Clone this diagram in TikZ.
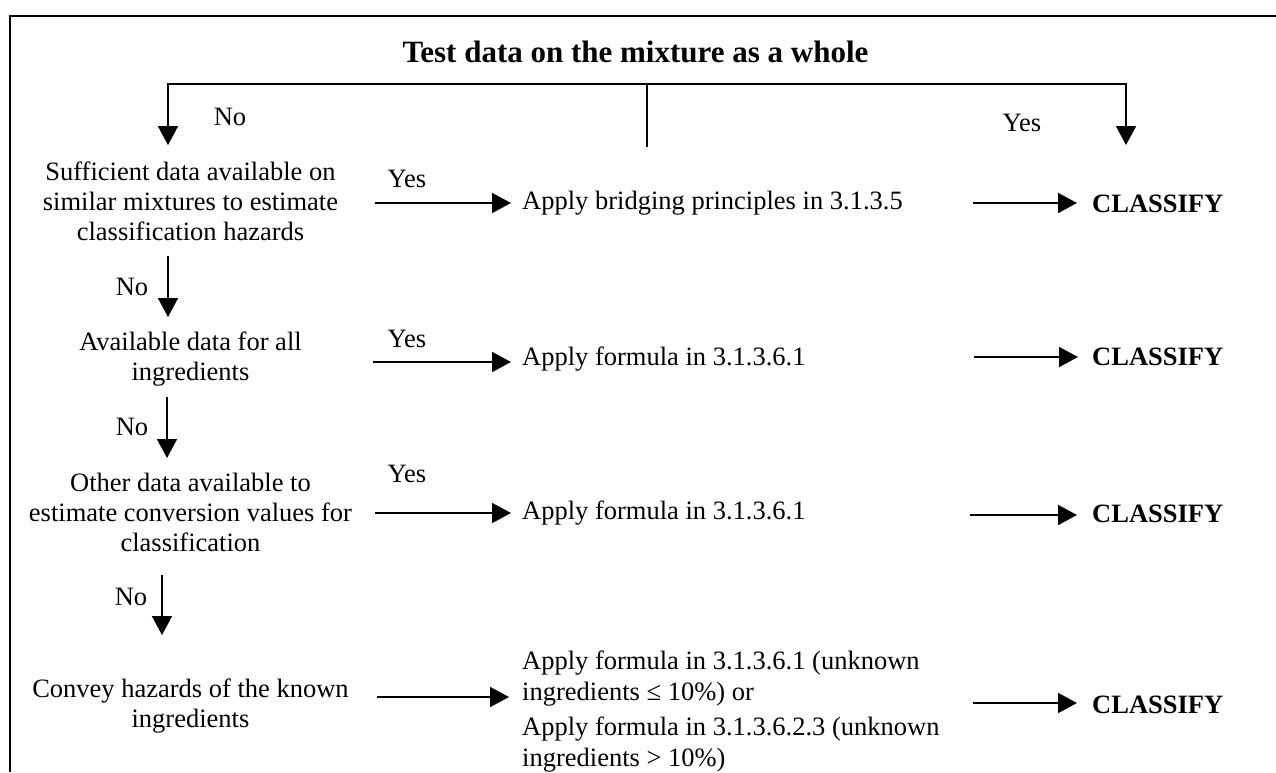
\documentclass[tikz,border=0pt]{standalone}
\usepackage{fontspec}
\setmainfont{Liberation Serif}
\usetikzlibrary{arrows.meta}
\begin{document}
\begin{tikzpicture}[x=1pt,y=-1pt,
  txt/.style={inner sep=0pt, font=\fontsize{26.5}{30}\selectfont},
  ask/.style={txt, align=center, anchor=north},
  act/.style={txt, anchor=base west},
  actblock/.style={inner sep=0pt, align=left, anchor=north west, font=\fontsize{26.5}{31}\selectfont},
  res/.style={inner sep=0pt, anchor=base west, font=\fontsize{26.5}{30}\selectfont\bfseries},
  lbl/.style={txt, anchor=base},
  link/.style={line width=1.7pt},
  flow/.style={link, -{Triangle[length=19pt,width=20pt]}},
  frame/.style={line width=2.2pt},
]
\useasboundingbox (0,0) rectangle (1276,772);

% table border (top and left edges)
\coordinate (fBL) at (10,772);
\coordinate (fTL) at (10,16);
\coordinate (fTR) at (1276,16);
\draw[frame] (fBL) -- (fTL) -- (fTR);

% heading and the first split
\node[inner sep=0pt, anchor=base, font=\fontsize{31}{36}\selectfont\bfseries] (title) at (635.5,62) {Test data on the mixture as a whole};
\coordinate (split) at (646.7,84);
\coordinate (stub) at (646.7,147);
\coordinate (noIn) at (168,145);
\coordinate (yesIn) at (1126,145);
\draw[link] (split) -- (stub);
\draw[flow] (split) -| (noIn);
\draw[flow] (split) -| (yesIn);
\node[lbl] (no0) at (230,125) {No};
\node[lbl] (yes0) at (1022,131) {Yes};

% decision column
\node[ask] (q1) at (190.5,162) {Sufficient data available on\\similar mixtures to estimate\\classification hazards};
\node[ask] (q2) at (190.5,332) {Available data for all\\ingredients};
\node[ask] (q3) at (190.5,473) {Other data available to\\estimate conversion values for\\classification};
\node[ask] (q4) at (190.5,679) {Convey hazards of the known\\ingredients};

% actions
\node[act] (a1) at (522,209.5) {Apply bridging principles in 3.1.3.5};
\node[act] (a2) at (522,365) {Apply formula in 3.1.3.6.1};
\node[act] (a3) at (522,519.5) {Apply formula in 3.1.3.6.1};
\node[actblock] (a4) at (522,651) {Apply formula in 3.1.3.6.1 (unknown\\ingredients ≤ 10\%) or\\[4pt]Apply formula in 3.1.3.6.2.3 (unknown\\ingredients > 10\%)};

% results
\node[res] (c1) at (1092,212) {CLASSIFY};
\node[res] (c2) at (1092,365) {CLASSIFY};
\node[res] (c3) at (1092,522) {CLASSIFY};
\node[res] (c4) at (1092,713) {CLASSIFY};

% "No" arrows down the decision column
\coordinate (n1s) at (168,256); \coordinate (n1e) at (168,317);
\coordinate (n2s) at (167,397); \coordinate (n2e) at (167,458);
\coordinate (n3s) at (162,575); \coordinate (n3e) at (162,635);
\draw[flow] (n1s) -- (n1e);
\draw[flow] (n2s) -- (n2e);
\draw[flow] (n3s) -- (n3e);
\node[lbl] (no1) at (132,295) {No};
\node[lbl] (no2) at (132,435) {No};
\node[lbl] (no3) at (131,605) {No};

% "Yes" arrows to the actions
\coordinate (y1s) at (375,203); \coordinate (y1e) at (511,203);
\coordinate (y2s) at (373,362); \coordinate (y2e) at (511,362);
\coordinate (y3s) at (375,513); \coordinate (y3e) at (511,513);
\coordinate (y4s) at (377,697); \coordinate (y4e) at (509,697);
\draw[flow] (y1s) -- (y1e);
\draw[flow] (y2s) -- (y2e);
\draw[flow] (y3s) -- (y3e);
\draw[flow] (y4s) -- (y4e);
\node[lbl] (yes1) at (407,187) {Yes};
\node[lbl] (yes2) at (407,347) {Yes};
\node[lbl] (yes3) at (407,482) {Yes};

% arrows from actions to the classification
\coordinate (r1s) at (973,203); \coordinate (r1e) at (1077,203);
\coordinate (r2s) at (974,357); \coordinate (r2e) at (1078,357);
\coordinate (r3s) at (970,515); \coordinate (r3e) at (1077,515);
\coordinate (r4s) at (973,703); \coordinate (r4e) at (1077,703);
\draw[flow] (r1s) -- (r1e);
\draw[flow] (r2s) -- (r2e);
\draw[flow] (r3s) -- (r3e);
\draw[flow] (r4s) -- (r4e);
\end{tikzpicture}
\end{document}
